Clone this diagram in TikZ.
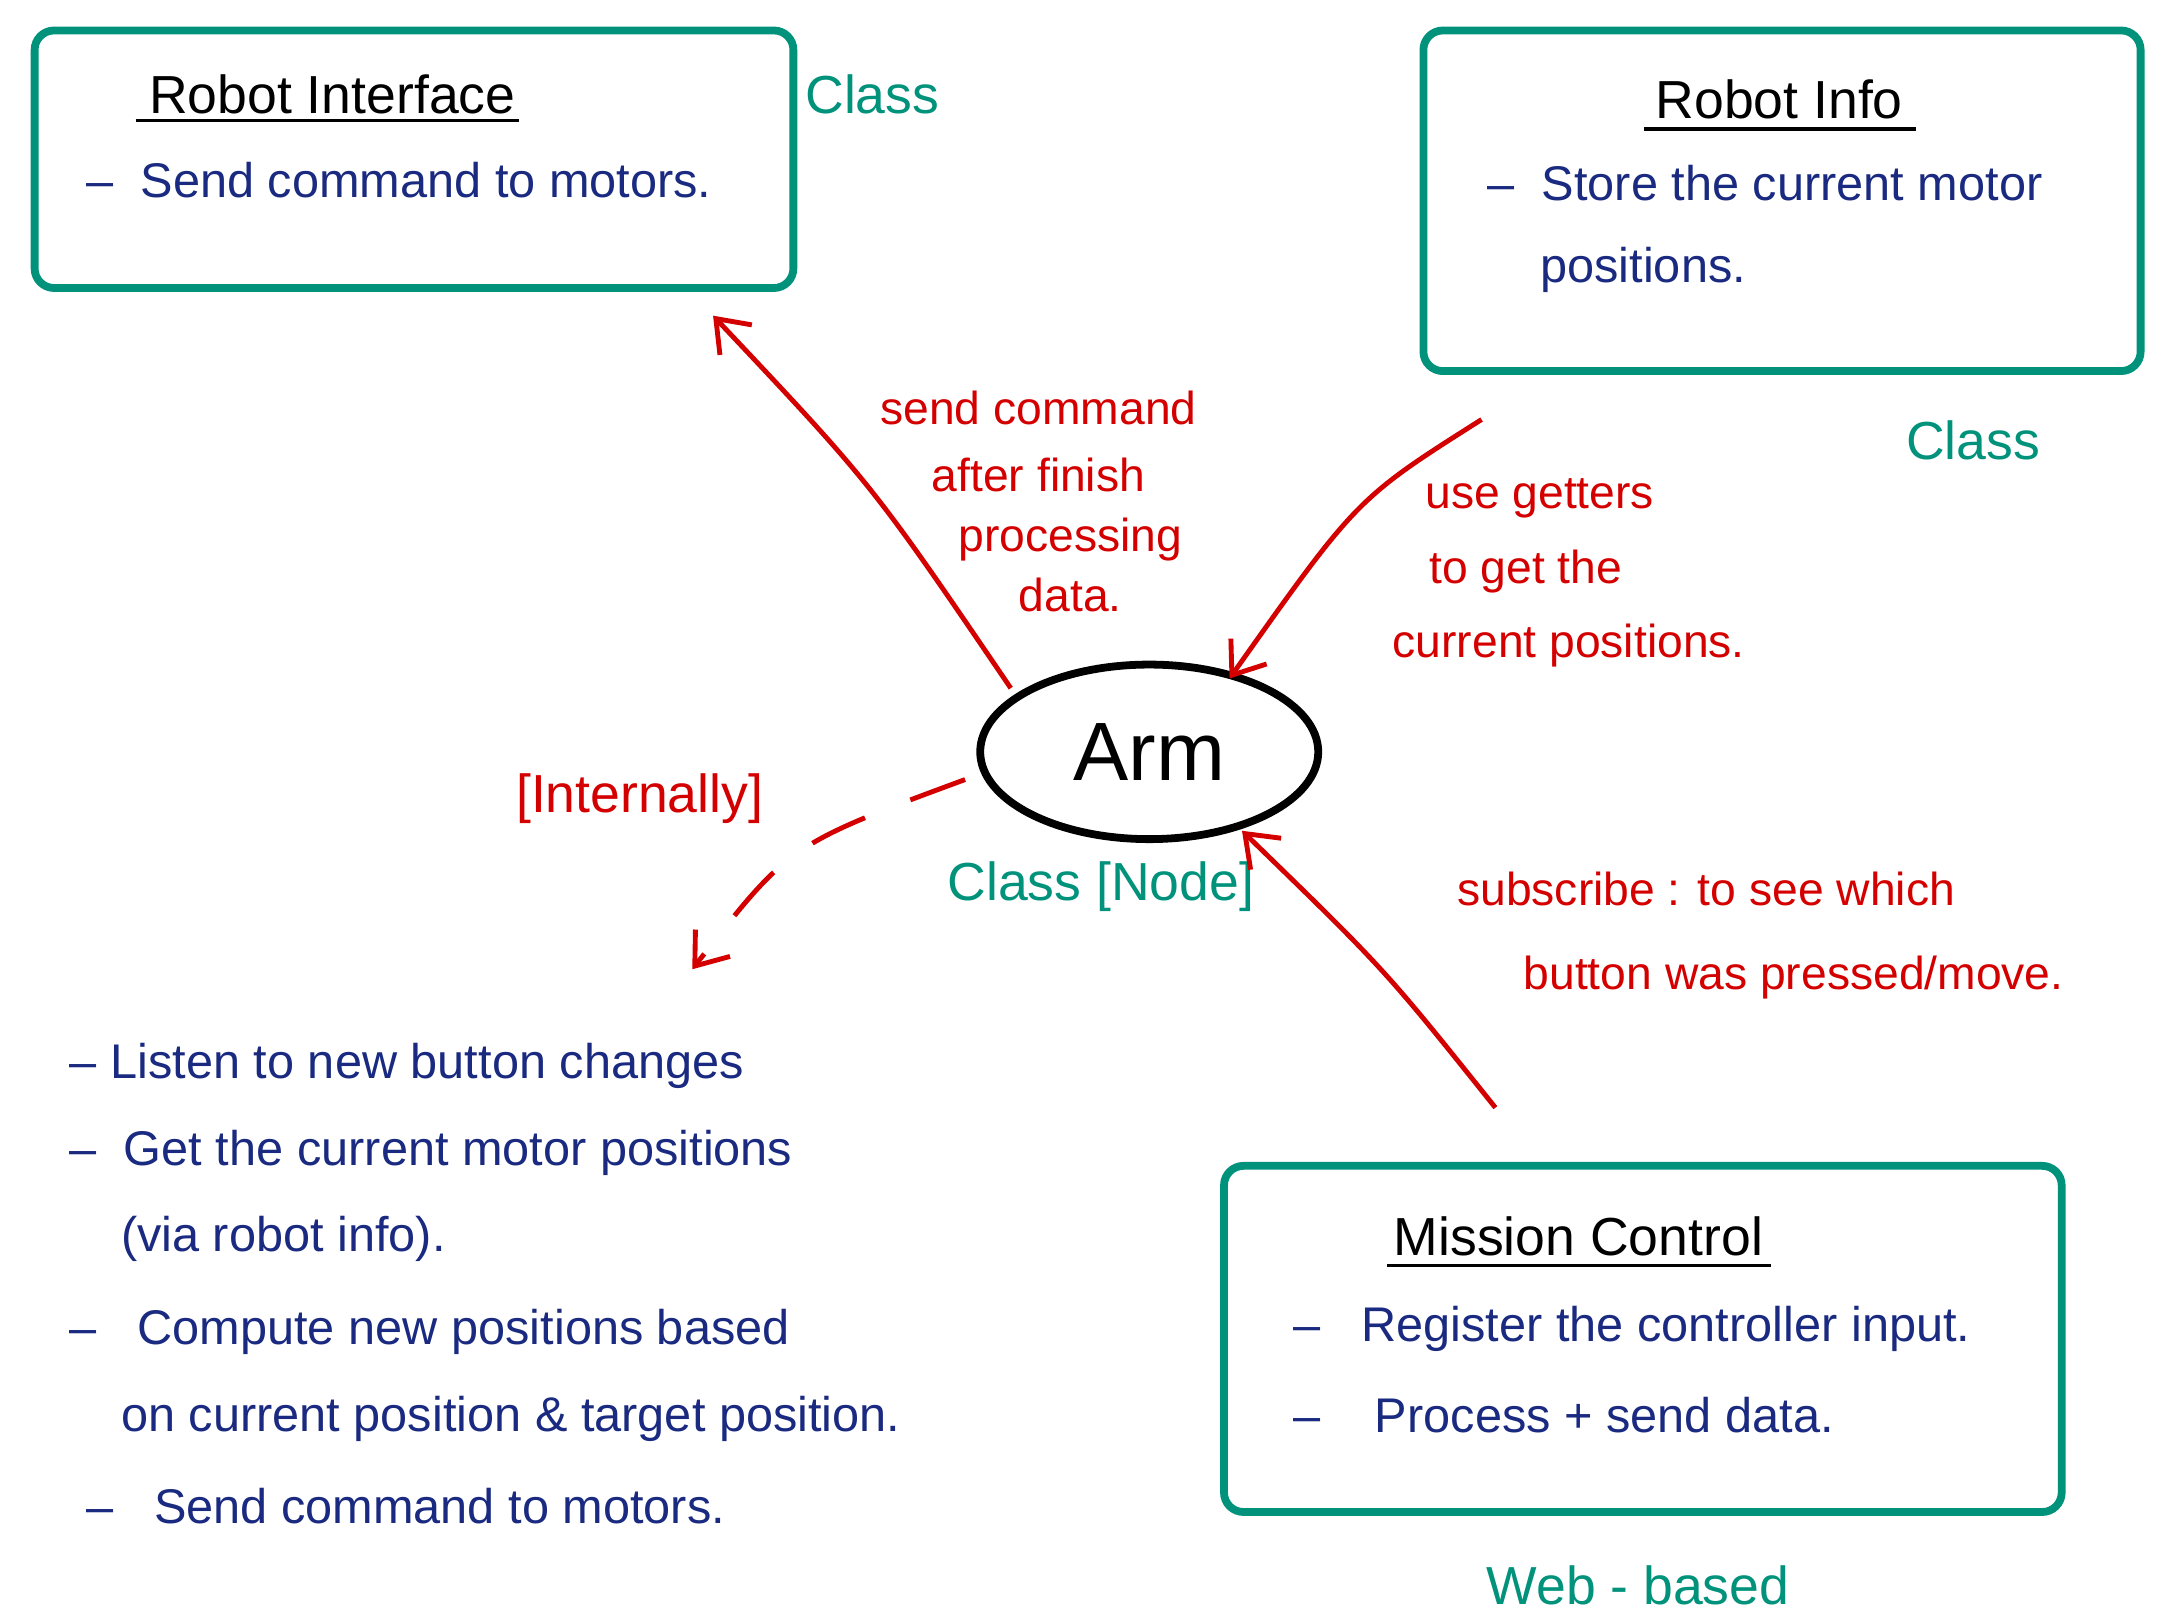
\documentclass[tikz,border=0pt]{standalone}
\usepackage{fontspec}
\setmainfont{Liberation Sans}
\usetikzlibrary{arrows.meta,shapes.geometric}
\definecolor{teal1}{HTML}{00927A}
\definecolor{navy}{HTML}{1A2A80}
\definecolor{red1}{HTML}{D40000}
\begin{document}
\begin{tikzpicture}[x=0.01cm,y=-0.01cm,
  box/.style={draw=teal1,line width=1.6pt,rounded corners=4pt},
  tl/.style={text=teal1,font=\fontsize{11}{13}\selectfont},
  bl/.style={text=navy,font=\fontsize{10}{12}\selectfont,anchor=west},
  rd/.style={text=red1,font=\fontsize{9.5}{11}\selectfont},
  ttl/.style={font=\fontsize{11}{13}\selectfont,text=black},
  arr/.style={draw=red1,line width=1pt,->,>={Straight Barb[length=6pt,width=9pt]}}]
\useasboundingbox (0,0) rectangle (1560,1170);
% Robot Interface
\draw[box] (25,22) rectangle (573,208);
\node[ttl] (rit) at (240,68) {Robot Interface};
\draw[line width=0.8pt] (98,87) -- (375,87);
\node[bl] (ri1) at (50,130) {--\ \ Send command to motors.};
\coordinate (ri) at (515,228);
\node[tl] (c1) at (630,68) {Class};
% Robot Info
\draw[box] (1028,22) rectangle (1546,268);
\node[ttl] (rft) at (1285,72) {Robot Info};
\draw[line width=0.8pt] (1187,93) -- (1384,93);
\node[bl] (rf1) at (1062,132) {--\ \ Store the current motor};
\node[bl] (rf2) at (1100,195) {positions.};
\node[tl] (c2) at (1425,318) {Class};
% Arm
\node[draw,line width=1.6pt,ellipse,minimum width=2.44cm,minimum height=1.26cm,inner sep=0pt,font=\fontsize{17}{20}\selectfont] (arm) at (830,543) {Arm};
\node[tl] (c3) at (795,640) {Class [Node]};
% arrows
\coordinate (a1) at (730,497);
\draw[arr] (a1) .. controls (630,350) .. (ri);
\node[rd] (l1a) at (750,295) {send command};
\node[rd] (l1b) at (750,343) {after finish};
\node[rd] (l1c) at (773,390) {processing};
\node[rd] (l1d) at (773,430) {data.};
\coordinate (s2) at (1070,303);
\coordinate (e2) at (888,490);
\draw[arr] (s2) .. controls (980,360) .. (e2);
\node[rd] (l2a) at (1112,360) {use getters};
\node[rd] (l2b) at (1102,413) {to get the};
\node[rd] (l2c) at (1133,466) {current positions.};
\coordinate (s3) at (1080,800);
\coordinate (e3) at (897,600);
\draw[arr] (s3) .. controls (1000,700) .. (e3);
\node[rd,anchor=west] (l3a) at (1040,642) {subscribe : to see which};
\node[rd,anchor=west] (l3b) at (1088,706) {button was pressed/move.};
\coordinate (s4) at (697,563);
\coordinate (e4) at (500,700);
\draw[arr,dash pattern=on 12pt off 10pt] (s4) .. controls (570,610) .. (e4);
\node[rd,font=\fontsize{11}{13}\selectfont] (l4) at (462,577) {[Internally]};
% left list
\node[bl] (p1) at (38,770) {--\ Listen to new button changes};
\node[bl] (p2) at (38,833) {--\ \ Get the current motor positions};
\node[bl] (p3) at (75,895) {(via robot info).};
\node[bl] (p4) at (38,962) {--\ \ \ Compute new positions based};
\node[bl] (p5) at (75,1025) {on current position \& target position.};
\node[bl] (p6) at (50,1088) {--\ \ \ Send command to motors.};
% Mission Control
\draw[box] (884,842) rectangle (1489,1092);
\node[ttl] (mct) at (1140,893) {Mission Control};
\draw[line width=0.8pt] (1002,914) -- (1279,914);
\node[bl] (m1) at (922,960) {--\ \ \ Register the controller input.};
\node[bl] (m2) at (922,1022) {--\ \ \ \ Process + send data.};
\node[tl] (c4) at (1183,1145) {Web - based};
\end{tikzpicture}
\end{document}
